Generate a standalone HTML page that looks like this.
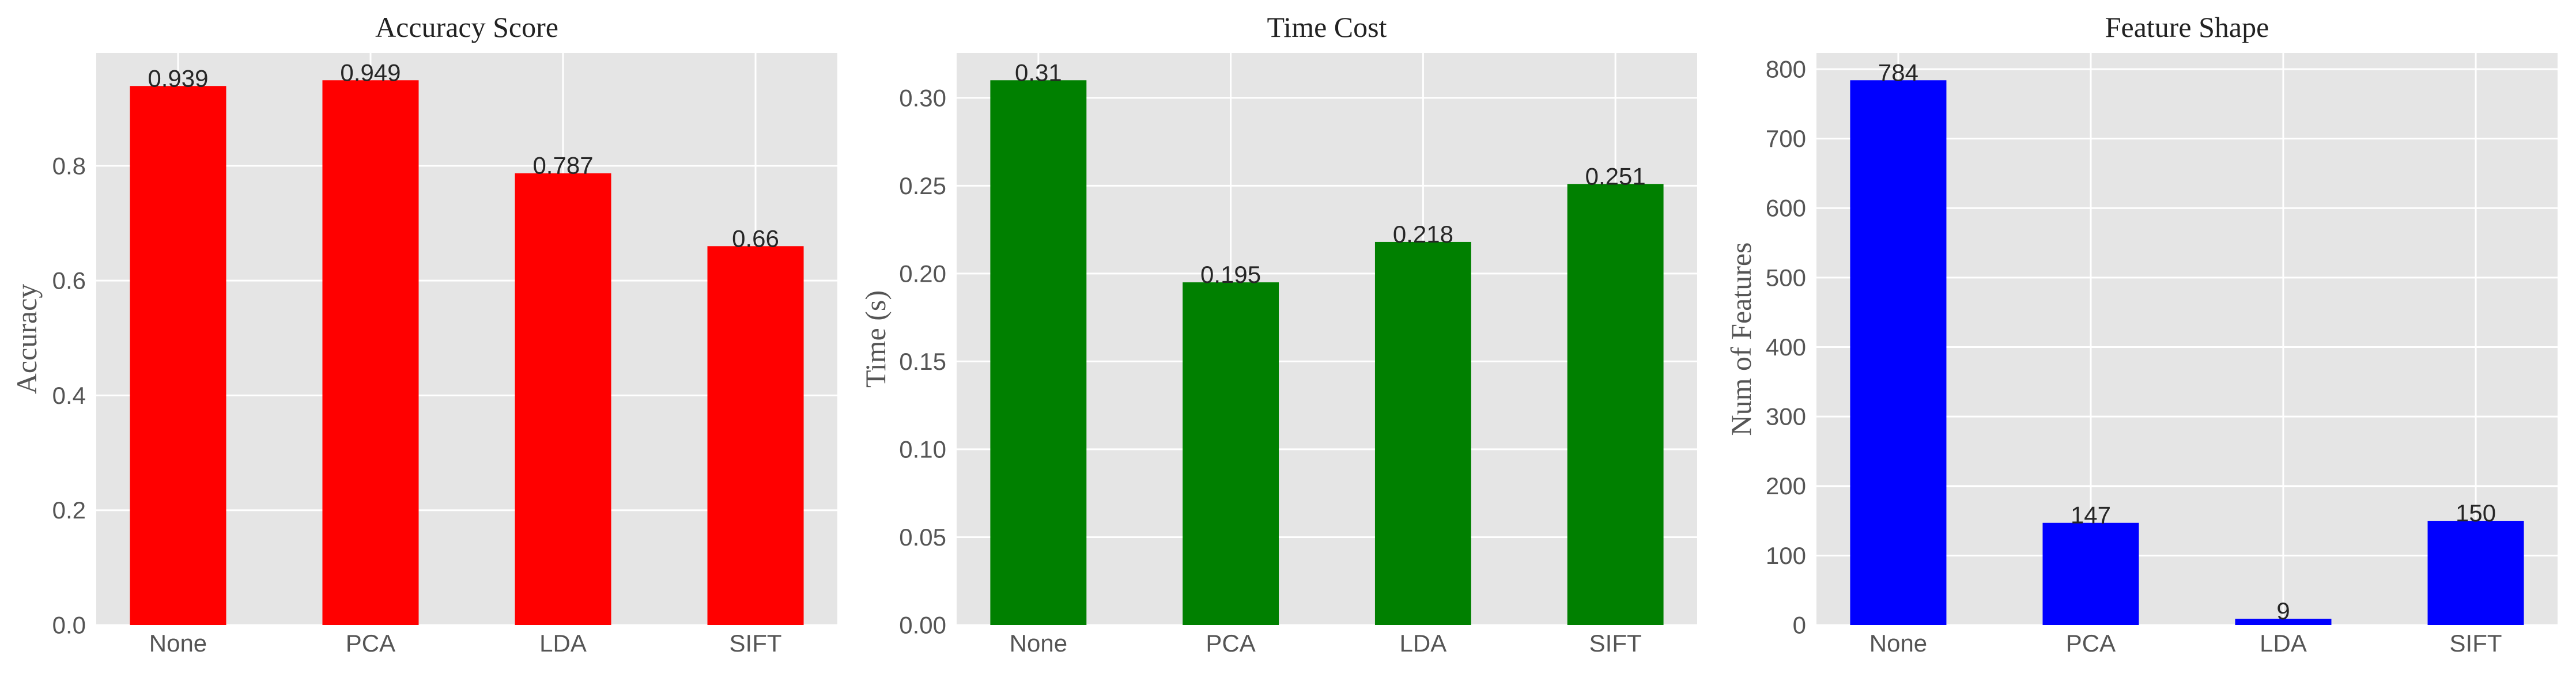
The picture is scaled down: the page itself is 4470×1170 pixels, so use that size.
<!DOCTYPE html>
<html><head><meta charset="utf-8"><style>
html,body{margin:0;padding:0;background:#fff;}
svg{display:block;}
</style></head><body>
<svg id="fig" width="4470" height="1170" xmlns="http://www.w3.org/2000/svg"></svg>
<script>
const categories = ["None","PCA","LDA","SIFT"];
const accuracyValues = [0.939,0.949,0.787,0.66];
const accuracyLabels = ["0.939","0.949","0.787","0.66"];
const accuracyTicks = [0,0.2,0.4,0.6,0.8];
const accuracyTickLabels = ["0.0","0.2","0.4","0.6","0.8"];
const timeValues = [0.31,0.195,0.218,0.251];
const timeLabels = ["0.31","0.195","0.218","0.251"];
const timeTicks = [0,0.05,0.1,0.15,0.2,0.25,0.3];
const timeTickLabels = ["0.00","0.05","0.10","0.15","0.20","0.25","0.30"];
const featureValues = [784,147,9,150];
const featureLabels = ["784","147","9","150"];
const featureTicks = [0,100,200,300,400,500,600,700,800];
const featureTickLabels = ["0","100","200","300","400","500","600","700","800"];

const NS="http://www.w3.org/2000/svg";
const svg=document.getElementById('fig');
function mk(tag,attrs,parent){const e=document.createElementNS(NS,tag);for(const k in attrs)e.setAttribute(k,attrs[k]);(parent||svg).appendChild(e);return e;}

const panels=[
 {key:'accuracy',title:'Accuracy Score',ylabel:'Accuracy',left:167,right:1453,ylabX:46,vals:accuracyValues,labs:accuracyLabels,ticks:accuracyTicks,tlabs:accuracyTickLabels,color:'#ff0000'},
 {key:'time',title:'Time Cost',ylabel:'Time (s)',left:1660,right:2945,ylabX:1519,vals:timeValues,labs:timeLabels,ticks:timeTicks,tlabs:timeTickLabels,color:'#008000'},
 {key:'feature',title:'Feature Shape',ylabel:'Num of Features',left:3152,right:4438,ylabX:3021,vals:featureValues,labs:featureLabels,ticks:featureTicks,tlabs:featureTickLabels,color:'#0000ff'}
];
const plotTop=92,plotBottom=1085;
panels.forEach(p=>{
  const g=mk('g',{});
  
  
  const ymax=Math.max(...p.vals)*1.05;
  const y=v=>plotBottom-(v/ymax)*(plotBottom-plotTop);
  const xmin=-0.425,xmax=3.425;
  const x=v=>p.left+(v-xmin)/(xmax-xmin)*(p.right-p.left);
  const bg=mk('rect',{x:p.left,y:plotTop,width:p.right-p.left,height:plotBottom-plotTop,fill:'#e5e5e5'},g);
  
  
  p.ticks.forEach((t,i)=>{
    const l=mk('line',{x1:p.left,x2:p.right,y1:y(t),y2:y(t),stroke:'#fff','stroke-width':3},g);
    
    
    const tx=mk('text',{x:p.left-18,y:y(t),'text-anchor':'end','dominant-baseline':'central','font-family':'Liberation Sans, sans-serif','font-size':42,fill:'#555'},g);
    tx.textContent=p.tlabs[i];
    
    
  });
  categories.forEach((c,i)=>{
    const l=mk('line',{x1:x(i),x2:x(i),y1:plotTop,y2:plotBottom,stroke:'#fff','stroke-width':3},g);
    
    
  });
  categories.forEach((c,i)=>{
    const b=mk('rect',{x:x(i-0.25),y:y(p.vals[i]),width:x(i+0.25)-x(i-0.25),height:plotBottom-y(p.vals[i]),fill:p.color},g);
    
    
    const vl=mk('text',{x:x(i),y:y(p.vals[i])+1,'text-anchor':'middle','font-family':'Liberation Sans, sans-serif','font-size':42,fill:'#262626'},g);
    vl.textContent=p.labs[i];
    
    
    const xl=mk('text',{x:x(i),y:1131,'text-anchor':'middle','font-family':'Liberation Sans, sans-serif','font-size':42,fill:'#555'},g);
    xl.textContent=c;
    
    
  });
  const t=mk('text',{x:(p.left+p.right)/2,y:64,'text-anchor':'middle','font-family':'Liberation Serif, serif','font-size':50,fill:'#222'},g);
  t.textContent=p.title;
  
  
  const yl=mk('text',{x:0,y:0,'text-anchor':'middle','dominant-baseline':'central','font-family':'Liberation Serif, serif','font-size':50,fill:'#555',transform:`translate(${p.ylabX},${(plotTop+plotBottom)/2}) rotate(-90)`},g);
  yl.textContent=p.ylabel;
  
  
});
</script>
</body></html>
